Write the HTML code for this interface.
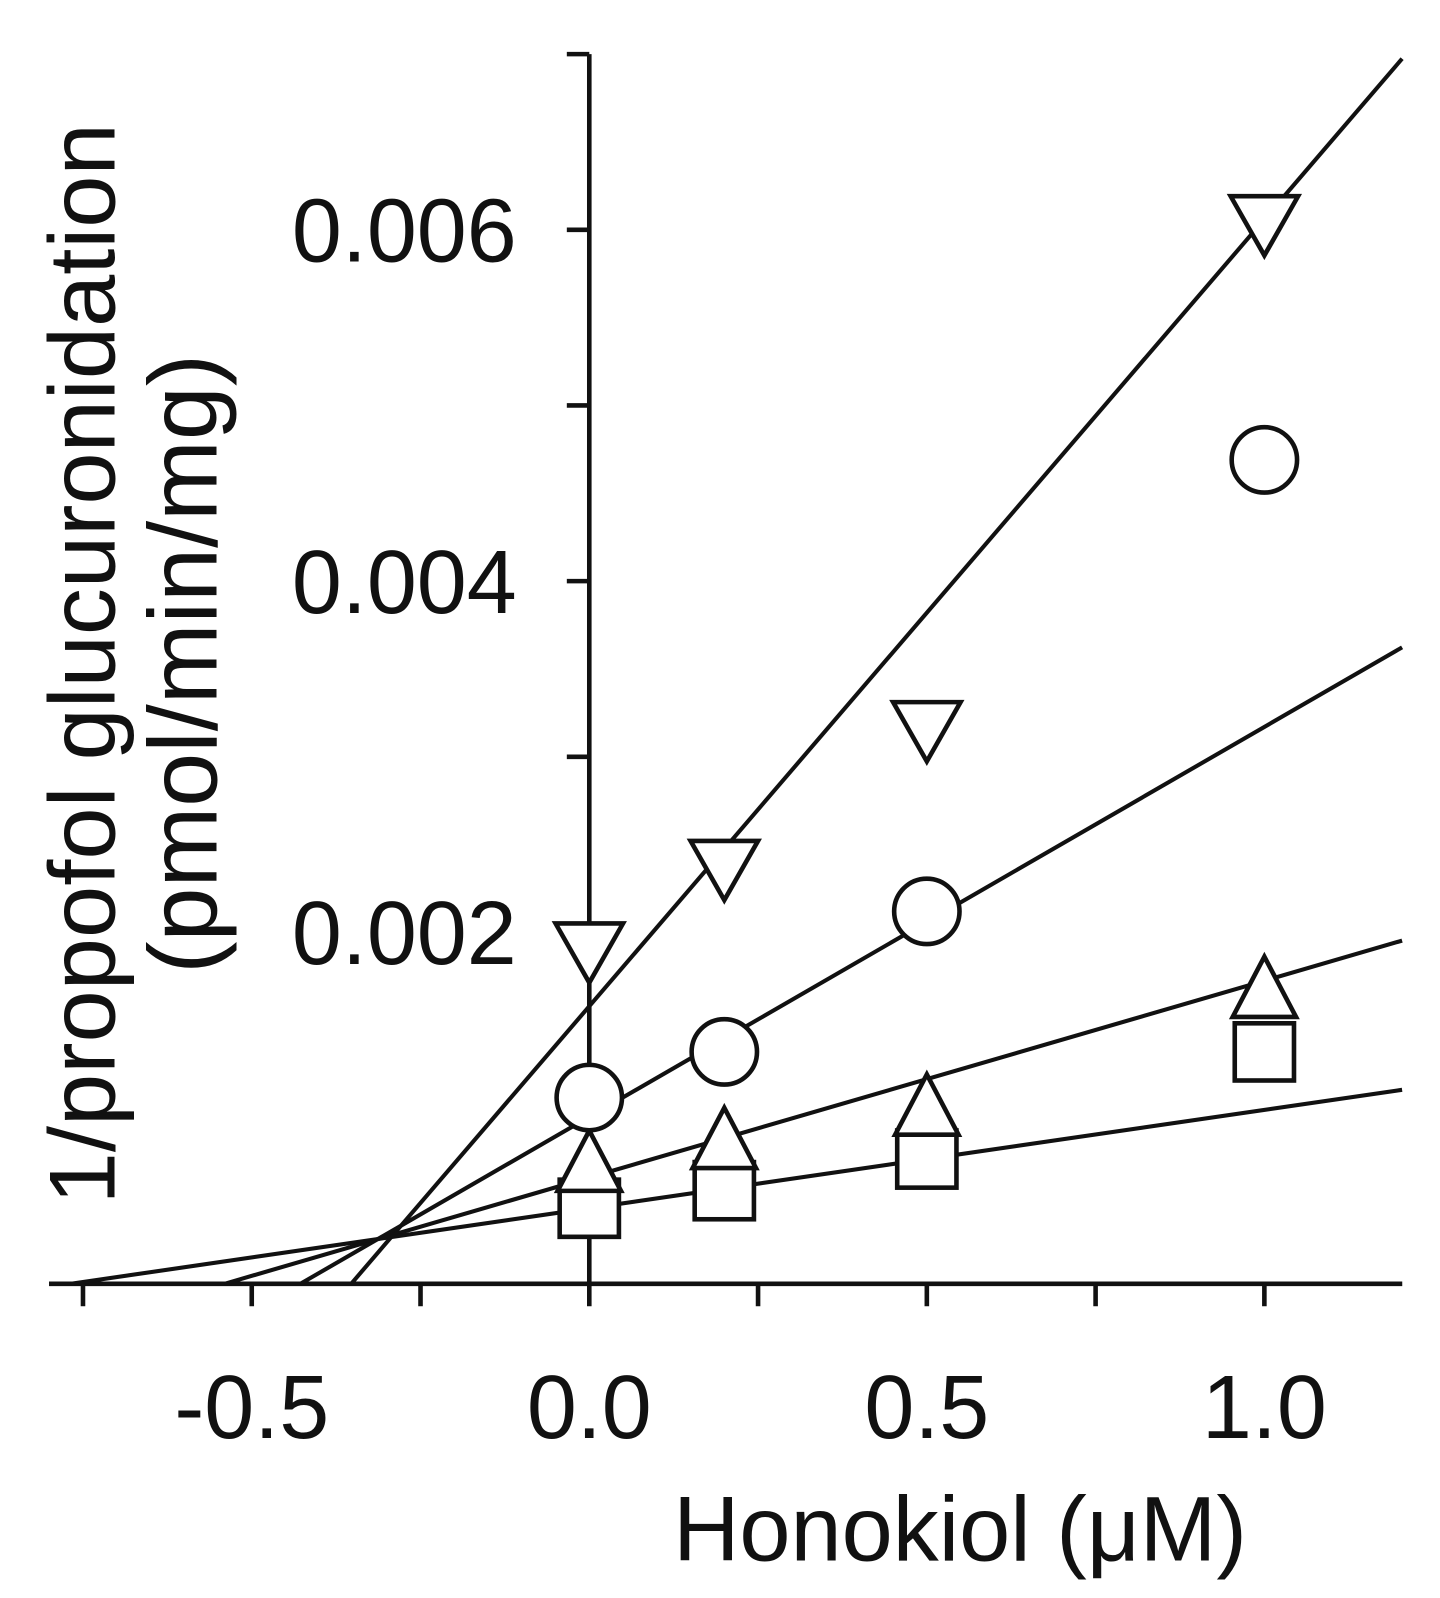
<!DOCTYPE html>
<html><head><meta charset="utf-8"><style>
html,body{margin:0;padding:0;background:#fff;}
svg{display:block;font-family:"Liberation Sans",Arial,sans-serif;}
</style></head><body>
<svg id="chart" width="1440" height="1598" viewBox="0 0 1440 1598" xmlns="http://www.w3.org/2000/svg">
<g transform="scale(1.0213)">
<g id="axes"></g>
<g id="fits"></g>
<g id="marks"></g>
<text transform="translate(112,650) rotate(-90)" text-anchor="middle" font-size="92" fill="#111">1/propofol glucuronidation</text>
<text transform="translate(212,650) rotate(-90)" text-anchor="middle" font-size="95" fill="#111">(pmol/min/mg)</text>
<text x="940" y="1528" text-anchor="middle" font-size="90" fill="#111">Honokiol (μM)</text>
</g>
</svg>
<script>
const xTicks=[-0.75,-0.5,-0.25,0,0.25,0.5,0.75,1.0];
const xLabels=["-0.5","0.0","0.5","1.0"];
const xLabelVals=[-0.5,0,0.5,1.0];
const yTicks=[0,0.001,0.002,0.003,0.004,0.005,0.006,0.007];
const yLabels=["0.002","0.004","0.006"];
const yLabelVals=[0.002,0.004,0.006];
const xData=[0,0.2,0.5,1.0];
const seriesDown=[0.0019,0.00237,0.00316,0.00604];
const seriesCircle=[0.00106,0.00132,0.00212,0.00469];
const seriesUp=[0.00068,0.00081,0.00100,0.00167];
const seriesSquare=[0.00043,0.00053,0.00071,0.00132];
const fitIntercepts=[0.00158,0.00095,0.000605,0.00043];
const fitSlopes=[0.00448,0.00222,0.00112,0.00056];
const fitNames=["fit-down-triangle","fit-circle","fit-up-triangle","fit-square"];

const X=v=>577+v*661;
const Y=v=>1257-v*172000;
const NS="http://www.w3.org/2000/svg";
function mk(tag,attrs,parent){const e=document.createElementNS(NS,tag);for(const k in attrs)e.setAttribute(k,attrs[k]);parent.appendChild(e);return e;}
const axes=document.getElementById('axes'),fits=document.getElementById('fits'),marks=document.getElementById('marks');
const st={stroke:"#111","stroke-width":4.5,fill:"none"};
let a=mk('line',Object.assign({x1:48,y1:Y(0),x2:1373,y2:Y(0)},st),axes);

a=mk('line',Object.assign({x1:X(0),y1:Y(0.007),x2:X(0),y2:Y(0)},st),axes);

xTicks.forEach(t=>{const e=mk('line',Object.assign({x1:X(t),y1:Y(0),x2:X(t),y2:Y(0)+22},st),axes);
});
yTicks.forEach(t=>{if(t===0)return;const e=mk('line',Object.assign({x1:X(0)-22,y1:Y(t),x2:X(0),y2:Y(t)},st),axes);
});
xLabels.forEach((l,i)=>{const e=mk('text',{x:X(xLabelVals[i]),y:1408,"text-anchor":"middle","font-size":88,fill:"#111"},axes);e.textContent=l;
});
yLabels.forEach((l,i)=>{const e=mk('text',{x:506,y:Y(yLabelVals[i])+31,"text-anchor":"end","font-size":88,fill:"#111"},axes);e.textContent=l;
});
fitIntercepts.forEach((b,i)=>{const m=fitSlopes[i];let x0=-b/m;let x1=1.204;let y1=b+m*x1;
if(y1>0.007){y1=0.007;x1=(0.007-b)/m;}
const e=mk('line',{x1:X(x0),y1:Y(0),x2:X(x1),y2:Y(y1),stroke:"#111","stroke-width":4},fits);
});
const ms={stroke:"#111","stroke-width":4.5,fill:"#fff"};
xData.forEach((x,i)=>{const cx=X(x);
let cy=Y(seriesSquare[i]);let e=mk('rect',Object.assign({x:cx-29,y:cy-28,width:58,height:56},ms),marks);

cy=Y(seriesUp[i]);e=mk('polygon',Object.assign({points:`${cx},${cy-33} ${cx-31},${cy+26} ${cx+31},${cy+26}`},ms),marks);

cy=Y(seriesCircle[i]);e=mk('circle',Object.assign({cx:cx,cy:cy,r:32},ms),marks);

cy=Y(seriesDown[i]);e=mk('polygon',Object.assign({points:`${cx},${cy+32} ${cx-33},${cy-26} ${cx+33},${cy-26}`},ms),marks);

});
</script>
</body></html>
